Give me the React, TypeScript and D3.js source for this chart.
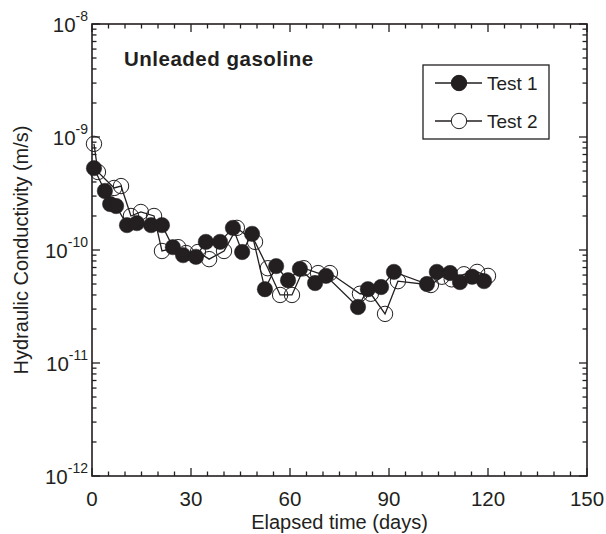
import React from "react";
import * as d3 from "d3";

const test1Days = [0.6, 3.9, 5.5, 7.3, 10.6, 13.6, 17.9, 21.2, 24.5, 27.6, 31.5, 34.5, 38.8, 42.7, 45.5, 48.5, 52.4, 55.8, 59.4, 63.0, 67.6, 70.9, 80.6, 83.6, 87.6, 91.5, 101.5, 104.5, 108.5, 111.5, 115.2, 118.8];
const test1K = [5.3e-10, 3.33e-10, 2.55e-10, 2.45e-10, 1.66e-10, 1.73e-10, 1.66e-10, 1.66e-10, 1.06e-10, 9.0e-11, 8.7e-11, 1.18e-10, 1.18e-10, 1.57e-10, 9.6e-11, 1.39e-10, 4.5e-11, 7.2e-11, 5.4e-11, 6.8e-11, 5.1e-11, 5.9e-11, 3.13e-11, 4.5e-11, 4.7e-11, 6.4e-11, 5.0e-11, 6.4e-11, 6.25e-11, 5.2e-11, 5.8e-11, 5.3e-11];

const test2Days = [0.6, 1.8, 6.7, 8.8, 11.8, 14.8, 18.8, 21.2, 26.1, 28.5, 32.1, 35.5, 40.0, 43.9, 49.4, 53.3, 57.0, 60.6, 64.2, 68.5, 72.1, 81.2, 84.5, 88.8, 92.7, 102.7, 106.0, 109.0, 112.7, 116.7, 120.0];
const test2K = [8.7e-10, 4.9e-10, 3.54e-10, 3.68e-10, 2.0e-10, 2.17e-10, 2.0e-10, 9.8e-11, 1.06e-10, 9.4e-11, 9.6e-11, 8.3e-11, 9.8e-11, 1.57e-10, 1.18e-10, 6.9e-11, 4.0e-11, 4.0e-11, 6.9e-11, 6.25e-11, 6.25e-11, 4.1e-11, 4.1e-11, 2.72e-11, 5.3e-11, 4.9e-11, 5.8e-11, 5.5e-11, 6.1e-11, 6.4e-11, 5.9e-11];

const xTicks = [0, 30, 60, 90, 120, 150];
const yExponents = [-8, -9, -10, -11, -12];
const seriesNames = ["Test 1", "Test 2"];
const title = "Unleaded gasoline";

const W = 606, H = 534;
const L = 92, R = 587, T = 24, B = 476;
const FONT = "'Liberation Sans', Arial, sans-serif";

export default function App() {
  const x = d3.scaleLinear().domain([0, 150]).range([L, R]);
  const y = d3.scaleLog().domain([1e-12, 1e-8]).range([B, T]);

  const s1 = test1Days.map((d, i) => [d, test1K[i]] as [number, number]);
  const s2 = test2Days.map((d, i) => [d, test2K[i]] as [number, number]);
  const line = d3.line<[number, number]>().x(d => x(d[0])).y(d => y(d[1]));

  const minorX = d3.range(0, 151, 5).filter(v => v % 30 !== 0);
  const minorY: number[] = [];
  for (let e = -12; e < -8; e++) for (let m = 2; m <= 9; m++) minorY.push(m * Math.pow(10, e));

  const r = 7.7;
  const tickMaj = 8, tickMin = 4.5;
  const ink = "#231f20";

  return (
    <div style={{ position: "absolute", left: 0, top: 0 }}>
      <svg width={W} height={H} style={{ display: "block", background: "#fff" }} fontFamily={FONT}>
        <g stroke={ink} strokeWidth={1.3}>
          {xTicks.map(v => (
            <g key={"xt" + v}>
              <line x1={x(v)} x2={x(v)} y1={B} y2={B - tickMaj} />
              <line x1={x(v)} x2={x(v)} y1={T} y2={T + tickMaj} />
            </g>
          ))}
          {minorX.map(v => (
            <g key={"xm" + v}>
              <line x1={x(v)} x2={x(v)} y1={B} y2={B - tickMin} />
              <line x1={x(v)} x2={x(v)} y1={T} y2={T + tickMin} />
            </g>
          ))}
          {yExponents.map(e => (
            <g key={"yt" + e}>
              <line x1={L} x2={L + tickMaj} y1={y(Math.pow(10, e))} y2={y(Math.pow(10, e))} />
              <line x1={R} x2={R - tickMaj} y1={y(Math.pow(10, e))} y2={y(Math.pow(10, e))} />
            </g>
          ))}
          {minorY.map((v, i) => (
            <g key={"ym" + i}>
              <line x1={L} x2={L + tickMin} y1={y(v)} y2={y(v)} />
              <line x1={R} x2={R - tickMin} y1={y(v)} y2={y(v)} />
            </g>
          ))}
        </g>
        <rect x={L} y={T} width={R - L} height={B - T} fill="none" stroke={ink} strokeWidth={1.6} />

        <path d={line(s2) || ""} fill="none" stroke={ink} strokeWidth={1.3} />
        {s2.map((d, i) => (
          <circle key={"b" + i} cx={x(d[0])} cy={y(d[1])} r={r} fill="none" stroke={ink} strokeWidth={1} />
        ))}
        <path d={line(s1) || ""} fill="none" stroke={ink} strokeWidth={1.3} />
        {s1.map((d, i) => (
          <circle key={"a" + i} cx={x(d[0])} cy={y(d[1])} r={r} fill={ink} stroke={ink} strokeWidth={0.5} />
        ))}

        <g fill={ink} fontSize={20.5}>
          {xTicks.map(v => (
            <text key={"xl" + v} x={x(v)} y={B + 30} textAnchor="middle">{v}</text>
          ))}
          {yExponents.map(e => (
            <text key={"yl" + e} x={L - 4} y={y(Math.pow(10, e)) + 7.5} textAnchor="end">
              10<tspan fontSize={14} dy={-11}>{String(e)}</tspan>
            </text>
          ))}
        </g>

        <text x={(L + R) / 2} y={529} textAnchor="middle" fontSize={20} fill={ink}>Elapsed time (days)</text>
        <text transform={`translate(28, ${(T + B) / 2}) rotate(-90)`} textAnchor="middle" fontSize={20} fill={ink}>Hydraulic Conductivity (m/s)</text>

        <text x={124} y={66} fontSize={20.5} fontWeight="bold" letterSpacing={0.5} fill={ink}>{title}</text>

        <rect x={423} y={65} width={126} height={74} fill="#fff" stroke={ink} strokeWidth={1.3} />
        {seriesNames.map((n, i) => {
          const ly = 83 + i * 38;
          return (
            <g key={n}>
              <line x1={435} x2={482} y1={ly} y2={ly} stroke={ink} strokeWidth={1.3} />
              <circle cx={459} cy={ly} r={r} fill={i === 0 ? ink : "#fff"} stroke={ink} strokeWidth={1} />
              <text x={487} y={ly + 7} fontSize={19} fill={ink}>{n}</text>
            </g>
          );
        })}
      </svg>
    </div>
  );
}
